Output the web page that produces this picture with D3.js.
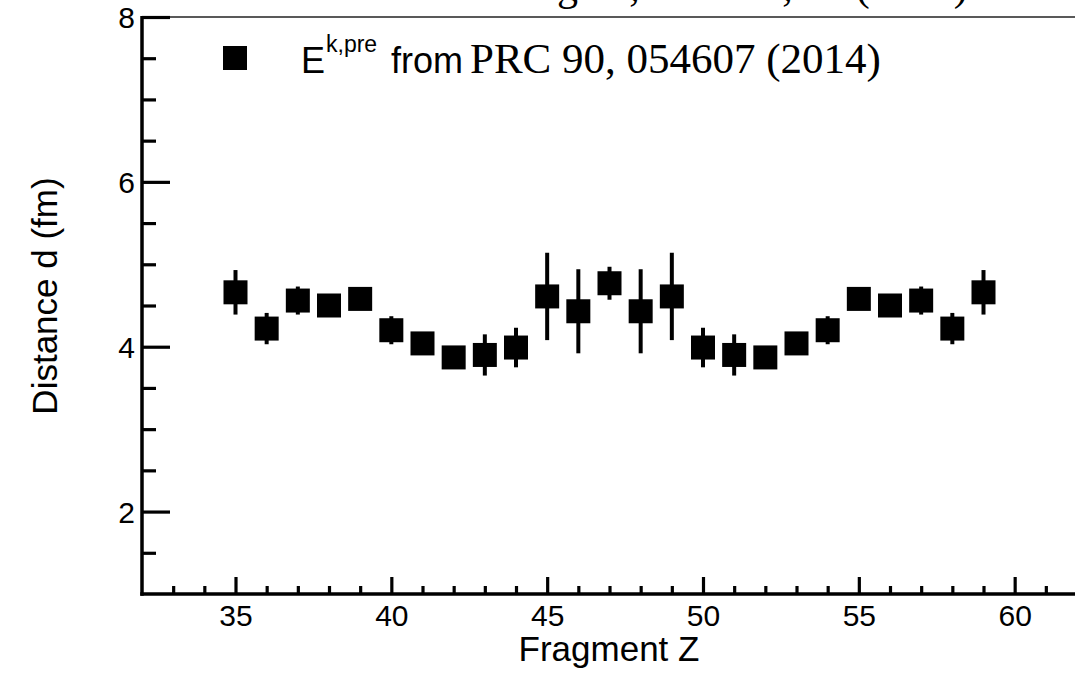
<!DOCTYPE html>
<html>
<head>
<meta charset="utf-8">
<script src="https://cdn.jsdelivr.net/npm/d3@7"></script>
<style>
  html, body { margin: 0; padding: 0; background: #fff; }
  svg { display: block; }
</style>
</head>
<body>
<svg id="chart" width="1075" height="674"></svg>
<script>
// ---- data ----
const fragmentZ = [35,36,37,38,39,40,41,42,43,44,45,46,47,48,49,50,51,52,53,54,55,56,57,58,59];
const distance  = [4.66,4.22,4.56,4.50,4.58,4.20,4.04,3.87,3.90,3.99,4.61,4.43,4.77,4.43,4.61,3.99,3.90,3.87,4.04,4.20,4.58,4.50,4.56,4.22,4.66];
const distErr   = [0.27,0.19,0.17,0.10,0.10,0.17,0.10,0.10,0.25,0.24,0.53,0.51,0.20,0.51,0.53,0.24,0.25,0.10,0.10,0.17,0.10,0.10,0.17,0.19,0.27];
const xMajorTicks = [35,40,45,50,55,60];
const yMajorTicks = [2,4,6,8];
const xDomain = [32, 62];
const yDomain = [1, 8];
const xTitle = "Fragment Z";
const yTitle = "Distance d (fm)";
const legendMain = "E";
const legendSup = "k,pre";
const legendFrom = "from";
const legendRef = "PRC 90, 054607 (2014)";
const cutTitle = "Fang D., PRC 87, 04 (2013)";

// ---- layout ----
const svg = d3.select("#chart");
const x = d3.scaleLinear().domain(xDomain).range([142, 1077]);
const y = d3.scaleLinear().domain(yDomain).range([594, 17]);
const sans = "'Liberation Sans', Arial, Helvetica, sans-serif";
const serif = "'Liberation Serif', 'Times New Roman', serif";

// cut-off line at the top (only descenders visible, as in the reference)
svg.append("text")
  .attr("x", 494).attr("y", 0)
  .attr("font-family", serif).attr("font-size", 42)
  .attr("fill", "#000")
  .text(cutTitle);

// top frame line (thin)
svg.append("line")
  .attr("x1", x(xDomain[0])).attr("x2", 1075)
  .attr("y1", y(yDomain[1])).attr("y2", y(yDomain[1]))
  .attr("stroke", "#222").attr("stroke-width", 1.5);

// minor ticks
const yMinor = d3.range(1.5, 8.01, 0.5).filter(v => !yMajorTicks.includes(v));
const xMinor = d3.range(33, 62, 1).filter(v => !xMajorTicks.includes(v));

const yMinorAxis = d3.axisLeft(y).tickValues(yMinor).tickSize(-14).tickFormat("");
const xMinorAxis = d3.axisBottom(x).tickValues(xMinor).tickSize(-8).tickFormat("");

const yAxis = d3.axisLeft(y).tickValues(yMajorTicks).tickSize(-28).tickPadding(7)
  .tickFormat(d3.format("d"));
const xAxis = d3.axisBottom(x).tickValues(xMajorTicks).tickSize(-17).tickPadding(11)
  .tickFormat(d3.format("d"));

function styleAxis(g) {
  g.select(".domain").remove();
  g.selectAll(".tick line").attr("stroke", "#000").attr("stroke-width", 3.2);
  g.selectAll(".tick text").attr("fill", "#000")
    .attr("font-family", sans).attr("font-size", 30);
}

svg.append("g").attr("transform", `translate(${x(xDomain[0])},0)`).call(yMinorAxis).call(styleAxis);
svg.append("g").attr("transform", `translate(0,${y(yDomain[0])})`).call(xMinorAxis).call(styleAxis);
const gy = svg.append("g").attr("transform", `translate(${x(xDomain[0])},0)`).call(yAxis).call(styleAxis);
gy.selectAll(".tick text").attr("dy", "0.36em");
const gx = svg.append("g").attr("transform", `translate(0,${y(yDomain[0])})`).call(xAxis).call(styleAxis);
gx.selectAll(".tick text").attr("dy", "0.71em");

// axis lines (thick)
svg.append("line")
  .attr("x1", x(xDomain[0])).attr("x2", x(xDomain[0]))
  .attr("y1", y(yDomain[1]) - 1).attr("y2", y(yDomain[0]) + 1.7)
  .attr("stroke", "#000").attr("stroke-width", 3.5);
svg.append("line")
  .attr("x1", x(xDomain[0]) - 1.7).attr("x2", x(xDomain[1]))
  .attr("y1", y(yDomain[0])).attr("y2", y(yDomain[0]))
  .attr("stroke", "#000").attr("stroke-width", 3.5);

// axis titles
svg.append("text")
  .attr("transform", `translate(57,296) rotate(-90)`)
  .attr("text-anchor", "middle")
  .attr("font-family", sans).attr("font-size", 35).attr("fill", "#000")
  .text(yTitle);
svg.append("text")
  .attr("x", 609).attr("y", 661)
  .attr("text-anchor", "middle")
  .attr("font-family", sans).attr("font-size", 35).attr("fill", "#000")
  .text(xTitle);

// data: error bars and squares
const pts = fragmentZ.map((z, i) => ({z, d: distance[i], e: distErr[i]}));
const sq = 24;
svg.append("g").selectAll("line").data(pts).join("line")
  .attr("x1", p => x(p.z)).attr("x2", p => x(p.z))
  .attr("y1", p => y(p.d + p.e)).attr("y2", p => y(p.d - p.e))
  .attr("stroke", "#000").attr("stroke-width", 4);
svg.append("g").selectAll("rect").data(pts).join("rect")
  .attr("x", p => x(p.z) - sq / 2).attr("y", p => y(p.d) - sq / 2)
  .attr("width", sq).attr("height", sq).attr("fill", "#000");

// legend
svg.append("rect").attr("x", 223).attr("y", 46).attr("width", 24).attr("height", 24).attr("fill", "#000");
const lt = svg.append("text").attr("y", 73).attr("fill", "#000");
lt.append("tspan").attr("x", 301).attr("font-family", sans).attr("font-size", 36).text(legendMain);
lt.append("tspan").attr("x", 326).attr("y", 52).attr("font-family", sans).attr("font-size", 23).text(legendSup);
lt.append("tspan").attr("x", 391).attr("y", 73).attr("font-family", sans).attr("font-size", 36).text(legendFrom);
lt.append("tspan").attr("x", 470).attr("y", 73).attr("font-family", serif).attr("font-size", 43).text(legendRef);
</script>
</body>
</html>
